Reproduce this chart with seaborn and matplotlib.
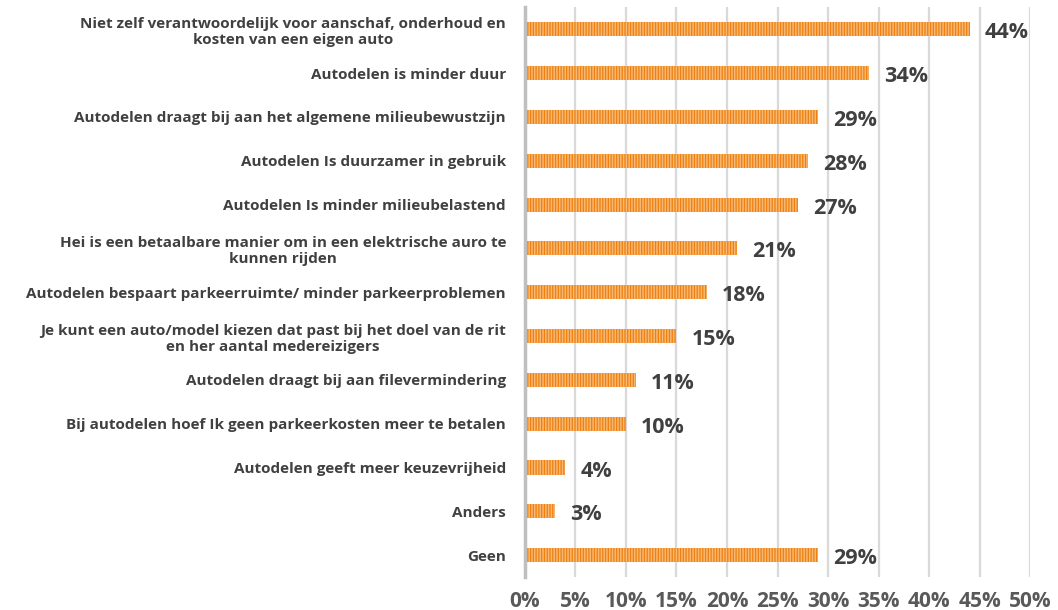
import matplotlib
matplotlib.use("Agg")
import matplotlib.pyplot as plt
import seaborn as sns
import pandas as pd
from matplotlib.ticker import FuncFormatter

categories = [
    "Niet zelf verantwoordelijk voor aanschaf, onderhoud en\nkosten van een eigen auto",
    "Autodelen is minder duur",
    "Autodelen draagt bij aan het algemene milieubewustzijn",
    "Autodelen Is duurzamer in gebruik",
    "Autodelen Is minder milieubelastend",
    "Hei is een betaalbare manier om in een elektrische auro te\nkunnen rijden",
    "Autodelen bespaart parkeerruimte/ minder parkeerproblemen",
    "Je kunt een auto/model kiezen dat past bij het doel van de rit\nen her aantal medereizigers",
    "Autodelen draagt bij aan filevermindering",
    "Bij autodelen hoef Ik geen parkeerkosten meer te betalen",
    "Autodelen geeft meer keuzevrijheid",
    "Anders",
    "Geen",
]
values = [44, 34, 29, 28, 27, 21, 18, 15, 11, 10, 4, 3, 29]
x_ticks = [0, 5, 10, 15, 20, 25, 30, 35, 40, 45, 50]

df = pd.DataFrame({"reden": categories, "pct": values})

sns.set_theme(style="white")
plt.rcParams["font.family"] = ["Open Sans", "DejaVu Sans"]
plt.rcParams["hatch.linewidth"] = 1.1

text_color = "#404040"
bar_color = "#EE7F10"
stripe_color = "#F8B872"

fig = plt.figure(figsize=(10.58, 6.10), dpi=100)
ax = fig.add_axes([0.496, 0.054, 0.478, 0.934])

sns.barplot(data=df, y="reden", x="pct", orient="h", ax=ax,
            color=bar_color, width=0.32, saturation=1.0)

# vertical pin-stripe fill on every bar
for patch in ax.patches:
    patch.set_hatch("||||||")
    patch.set_edgecolor(stripe_color)
    patch.set_linewidth(0)

ax.set_xlim(0, 50)
ax.set_ylim(len(categories) - 0.5, -0.5)
ax.set_xticks(x_ticks)
ax.xaxis.set_major_formatter(FuncFormatter(lambda v, p: f"{int(v)}%"))
ax.set_xlabel("")
ax.set_ylabel("")

ax.grid(axis="x", color="#d9d9d9", linewidth=1.6)
ax.set_axisbelow(True)
for side in ["top", "right", "bottom"]:
    ax.spines[side].set_visible(False)
ax.spines["left"].set_color("#bfbfbf")
ax.spines["left"].set_linewidth(2.5)

ax.tick_params(axis="x", length=0, pad=10, labelsize=15, labelcolor="#595959")
ax.tick_params(axis="y", length=0, pad=13.5, labelsize=11.0)
for lbl in ax.get_xticklabels():
    lbl.set_fontweight("bold")
for lbl in ax.get_yticklabels():
    lbl.set_fontweight("bold")
    lbl.set_color(text_color)
    lbl.set_multialignment("center")

for i, v in enumerate(values):
    ax.text(v + 1.5, i + 0.08, f"{v}%", va="center", ha="left",
            fontsize=15.5, fontweight="bold", color=text_color)

fig.savefig("out.png", dpi=100)
